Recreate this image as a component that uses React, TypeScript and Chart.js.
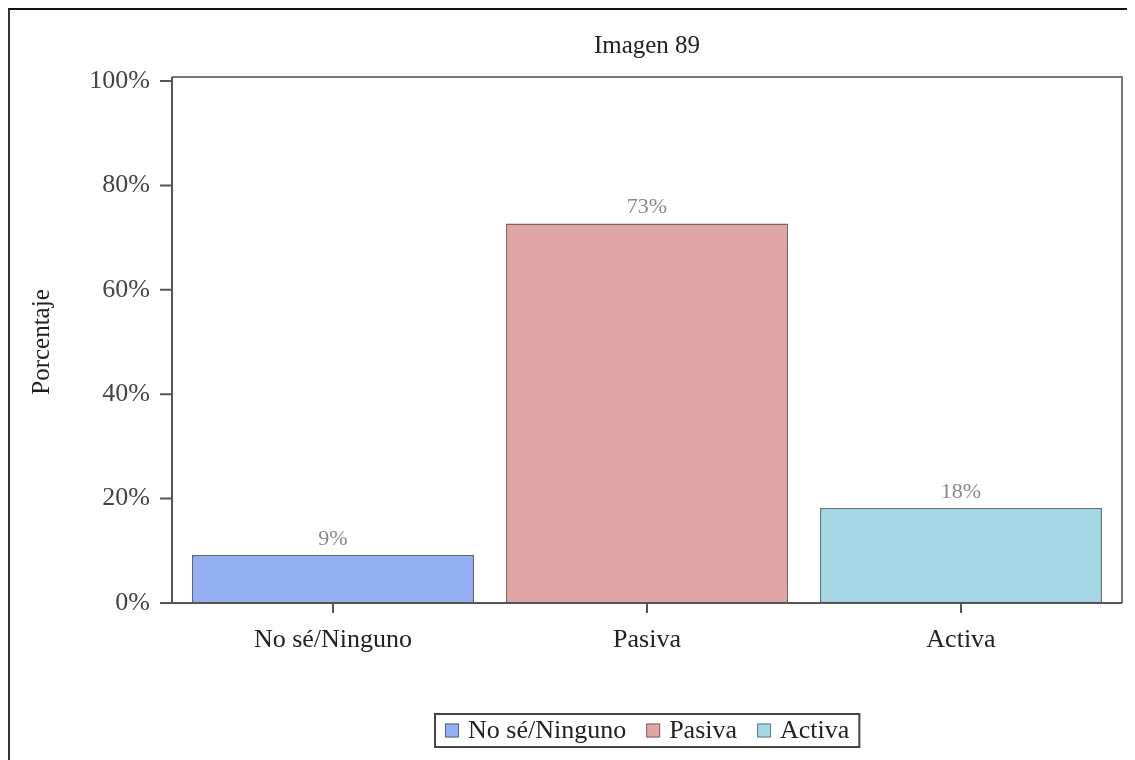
import React, { useEffect, useRef } from "react";
import { Chart, registerables } from "chart.js";

Chart.register(...registerables);

const categories = ["No sé/Ninguno", "Pasiva", "Activa"];
const values = [9.2, 72.7, 18.2];
const valueLabels = ["9%", "73%", "18%"];
const yTicks = [0, 20, 40, 60, 80, 100];
const fillColors = ["#94aef2", "#e0a6a6", "#a7d7e4"];
const borderColors = ["#55648a", "#806262", "#5a7c87"];
const chartTitle = "Imagen 89";
const yTitle = "Porcentaje";

const FONT = "'Liberation Serif', 'DejaVu Serif', serif";
const INSET = 4;

const framePlugin = {
  id: "frame",
  afterDatasetsDraw(chart: any) {
    const { ctx, chartArea } = chart;
    const fl = chartArea.left - INSET;
    const fr = chartArea.right + INSET;
    const ft = chartArea.top - INSET;
    const fb = chartArea.bottom;
    ctx.save();
    ctx.lineWidth = 2;
    ctx.strokeStyle = "#777";
    ctx.beginPath();
    ctx.moveTo(fl, ft);
    ctx.lineTo(fr, ft);
    ctx.lineTo(fr, fb);
    ctx.stroke();
    ctx.strokeStyle = "#555";
    ctx.beginPath();
    ctx.moveTo(fl, ft);
    ctx.lineTo(fl, fb);
    ctx.lineTo(fr, fb);
    ctx.stroke();
    // y tick marks
    const yScale = chart.scales.y;
    ctx.beginPath();
    yTicks.forEach((v) => {
      const py = yScale.getPixelForValue(v);
      ctx.moveTo(fl - 12, py);
      ctx.lineTo(fl, py);
    });
    ctx.stroke();
    // title
    ctx.fillStyle = "#222";
    ctx.font = `25px ${FONT}`;
    ctx.textAlign = "center";
    ctx.textBaseline = "middle";
    ctx.fillText(chartTitle, (fl + fr) / 2, 36);
    ctx.restore();
  },
};

const valueLabelPlugin = {
  id: "valueLabels",
  afterDatasetsDraw(chart: any) {
    const { ctx } = chart;
    const meta = chart.getDatasetMeta(0);
    ctx.save();
    ctx.font = `22px ${FONT}`;
    ctx.fillStyle = "#8a8a8a";
    ctx.textAlign = "center";
    ctx.textBaseline = "middle";
    meta.data.forEach((el: any, i: number) => {
      ctx.fillText(valueLabels[i], el.x, el.y - 16);
    });
    ctx.restore();
  },
};

const legendPlugin = {
  id: "boxLegend",
  afterDraw(chart: any) {
    const { ctx, chartArea } = chart;
    ctx.save();
    ctx.font = `26px ${FONT}`;
    const sw = 14;
    const gap = 9;
    const itemGap = 20;
    const padX = 10;
    const widths = categories.map((c) => ctx.measureText(c).width);
    let total = padX * 2;
    widths.forEach((w, i) => {
      total += sw + gap + w + (i > 0 ? itemGap : 0);
    });
    const cx = (chartArea.left + chartArea.right) / 2;
    const left = Math.round(cx - total / 2);
    const top = chartArea.bottom + 111;
    const h = 33;
    ctx.fillStyle = "#fff";
    ctx.fillRect(left, top, total, h);
    ctx.strokeStyle = "#444";
    ctx.lineWidth = 2;
    ctx.strokeRect(left, top, total, h);
    let x = left + padX;
    const midY = top + h / 2;
    categories.forEach((c, i) => {
      ctx.fillStyle = fillColors[i];
      ctx.fillRect(x, midY - sw / 2, sw, sw);
      ctx.strokeStyle = borderColors[i];
      ctx.lineWidth = 1;
      ctx.strokeRect(x + 0.5, midY - sw / 2 + 0.5, sw - 1, sw - 1);
      x += sw + gap;
      ctx.fillStyle = "#222";
      ctx.textAlign = "left";
      ctx.textBaseline = "middle";
      ctx.fillText(c, x, midY + 1);
      x += widths[i] + itemGap;
    });
    ctx.restore();
  },
};

export default function App() {
  const canvasRef = useRef<HTMLCanvasElement | null>(null);

  useEffect(() => {
    document.body.style.overflow = "hidden";
    const canvas = canvasRef.current;
    if (!canvas) return;
    const chart = new Chart(canvas, {
      type: "bar",
      data: {
        labels: categories,
        datasets: [
          {
            data: values,
            backgroundColor: fillColors,
            borderColor: borderColors,
            borderWidth: 1.5,
            borderSkipped: false,
            categoryPercentage: 0.898,
            barPercentage: 1.0,
          },
        ],
      },
      options: {
        responsive: false,
        animation: false,
        layout: { padding: { left: 0, right: 17, top: 71, bottom: 60 } },
        plugins: {
          legend: { display: false },
          tooltip: { enabled: false },
          title: { display: false },
        },
        scales: {
          x: {
            type: "category",
            grid: {
              display: true,
              drawOnChartArea: false,
              drawTicks: true,
              tickLength: 10,
              offset: false,
              color: "#555",
              lineWidth: 2,
            },
            border: { display: false },
            ticks: {
              color: "#222",
              padding: 12,
              font: { family: FONT, size: 26 },
              maxRotation: 0,
            },
            afterFit(scale: any) {
              scale.height = 97;
            },
          },
          y: {
            min: 0,
            max: 100,
            afterBuildTicks(scale: any) {
              scale.ticks = yTicks.map((v) => ({ value: v }));
            },
            grid: { display: false, drawTicks: false },
            border: { display: false },
            ticks: {
              color: "#444",
              padding: 26,
              font: { family: FONT, size: 26 },
              callback: (v: any) => `${v}%`,
            },
            title: {
              display: true,
              text: yTitle,
              color: "#222",
              font: { family: FONT, size: 25 },
              padding: { top: 17, bottom: 0 },
            },
            afterFit(scale: any) {
              scale.width = 162 + INSET;
            },
          },
        },
      },
      plugins: [framePlugin, valueLabelPlugin, legendPlugin],
    });
    return () => chart.destroy();
  }, []);

  return (
    <div
      style={{
        width: 1127,
        height: 752,
        boxSizing: "border-box",
        borderTop: "2px solid #111",
        borderLeft: "2px solid #333",
        background: "#fff",
      }}
    >
      <canvas ref={canvasRef} width={1125} height={750} style={{ display: "block" }} />
    </div>
  );
}
